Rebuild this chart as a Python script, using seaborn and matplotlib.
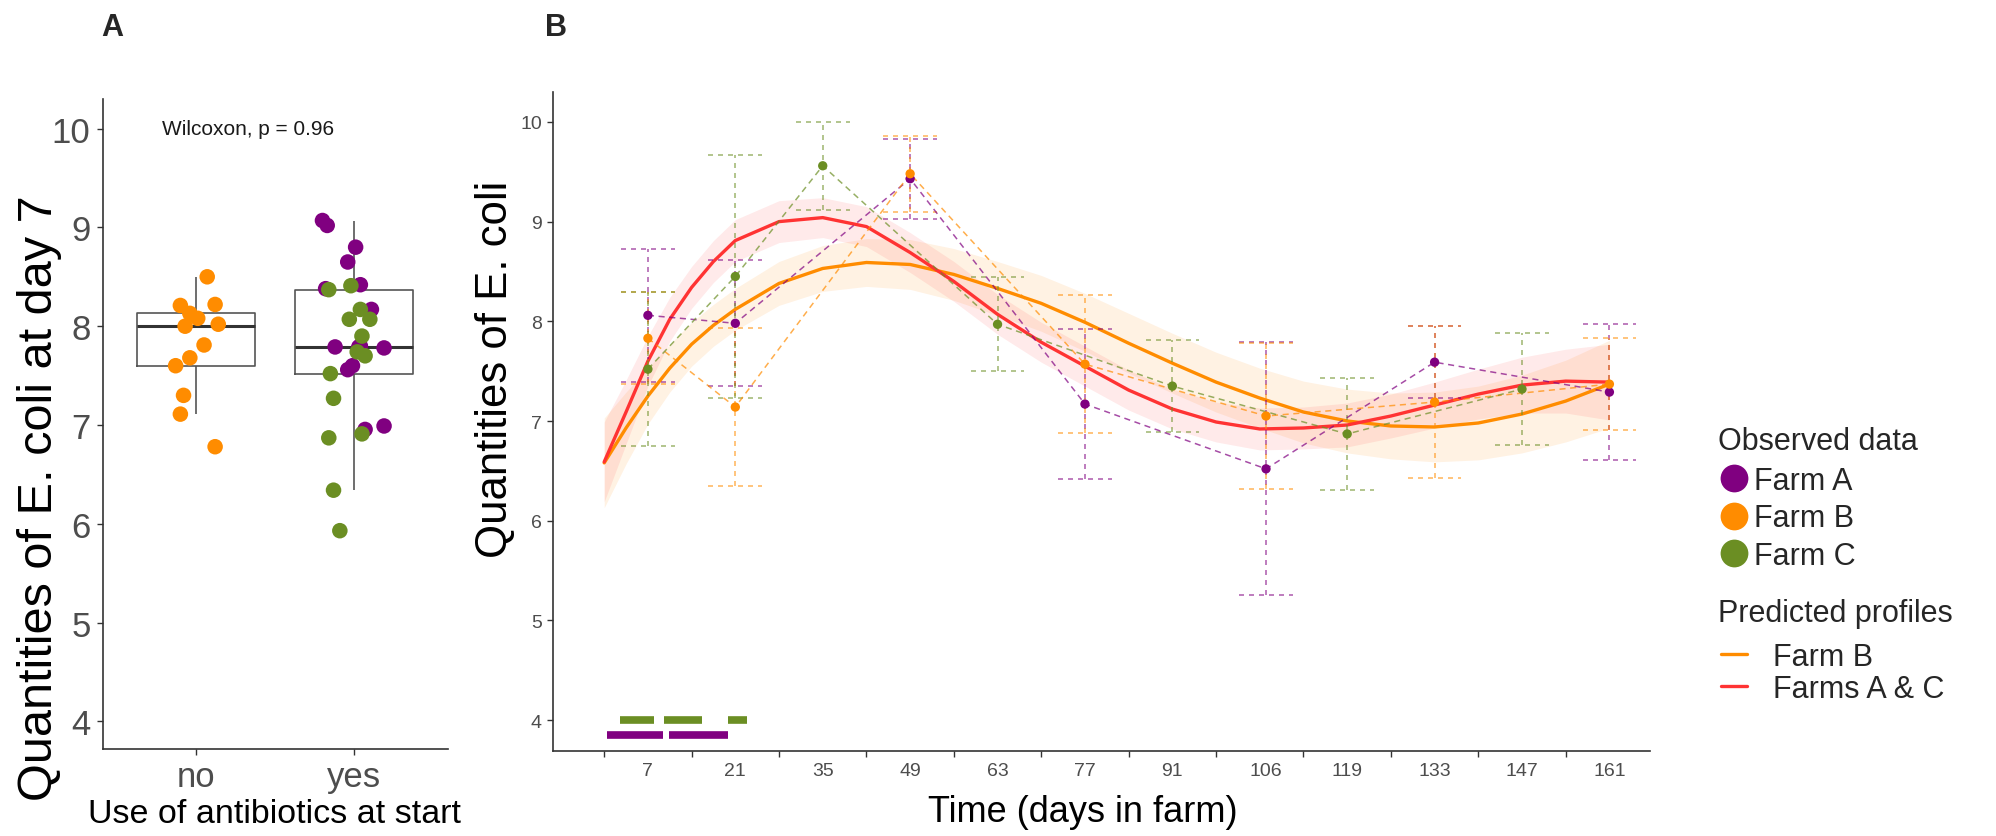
import matplotlib
matplotlib.use("Agg")
import matplotlib.pyplot as plt
from matplotlib.lines import Line2D
import numpy as np
import pandas as pd
import seaborn as sns

W, H = 1996, 837

# ---- panel A: E. coli at day 7 by antibiotic use ----
GROUPS = ["no", "yes"]
NO_VALUES = [8.50, 8.21, 8.22, 8.13, 8.08, 8.02, 8.00, 7.81, 7.68, 7.60, 7.30, 7.11, 6.78]
NO_JITTER = [0.07, -0.10, 0.12, -0.04, 0.01, 0.14, -0.07, 0.05, -0.04, -0.13, -0.08, -0.10, 0.12]
YES_VALUES = [9.07, 9.02, 8.80, 8.65, 8.42, 8.38, 8.17, 7.79, 7.79, 7.78, 7.80, 7.60, 7.56, 6.955, 6.99,
              8.37, 8.41, 8.17, 8.07, 8.07, 7.90, 7.74, 7.70, 7.52, 7.27, 6.87, 6.91, 6.34, 5.93]
YES_FARMS = ["Farm A"] * 15 + ["Farm C"] * 14
YES_JITTER = [-0.20, -0.17, 0.01, -0.04, 0.04, -0.18, 0.11, -0.12, 0.03, 0.19, 0.04, -0.01, -0.04, 0.07, 0.19,
              -0.16, -0.02, 0.04, -0.03, 0.10, 0.05, 0.02, 0.07, -0.15, -0.13, -0.16, 0.05, -0.13, -0.09]

# ---- panel B: observed means +/- sd ----
FARM_A_DAYS = [7, 21, 49, 77, 106, 133, 161]
FARM_A_MEAN = [8.06, 7.98, 9.43, 7.17, 6.52, 7.59, 7.29]
FARM_A_ERR = [0.67, 0.63, 0.40, 0.75, 1.27, 0.36, 0.68]
FARM_B_DAYS = [7, 21, 49, 77, 106, 133, 161]
FARM_B_MEAN = [7.83, 7.14, 9.48, 7.57, 7.05, 7.19, 7.37]
FARM_B_ERR = [0.46, 0.79, 0.38, 0.69, 0.73, 0.76, 0.46]
FARM_C_DAYS = [7, 21, 35, 63, 91, 119, 147]
FARM_C_MEAN = [7.52, 8.45, 9.56, 7.97, 7.35, 6.87, 7.32]
FARM_C_ERR = [0.77, 1.22, 0.44, 0.47, 0.46, 0.56, 0.56]

# predicted profiles with confidence band half widths
CURVE_DAYS = [0, 3.5, 7, 10.5, 14, 17.5, 21, 28, 35, 42, 49, 56, 63, 70, 77, 84, 91, 98, 105,
              112, 119, 126, 133, 140, 147, 154, 161]
FIT_AC = [6.59, 7.09, 7.60, 8.02, 8.34, 8.60, 8.81, 9.00, 9.04, 8.95, 8.69, 8.40, 8.07, 7.79, 7.55,
          7.31, 7.12, 6.99, 6.92, 6.93, 6.96, 7.05, 7.16, 7.27, 7.36, 7.40, 7.39]
BAND_AC = [0.40, 0.32, 0.25, 0.22, 0.21, 0.21, 0.21, 0.21, 0.20, 0.20, 0.20, 0.20, 0.20, 0.20, 0.20,
           0.20, 0.20, 0.20, 0.21, 0.21, 0.22, 0.22, 0.23, 0.25, 0.28, 0.32, 0.38]
FIT_B = [6.58, 6.93, 7.25, 7.53, 7.77, 7.96, 8.12, 8.38, 8.53, 8.59, 8.57, 8.47, 8.33, 8.18, 7.99,
         7.78, 7.58, 7.39, 7.23, 7.09, 7.00, 6.95, 6.94, 6.98, 7.07, 7.20, 7.37]
BAND_B = [0.45, 0.36, 0.28, 0.24, 0.22, 0.21, 0.21, 0.22, 0.23, 0.24, 0.25, 0.26, 0.27, 0.28, 0.29,
          0.30, 0.30, 0.30, 0.30, 0.31, 0.32, 0.33, 0.35, 0.37, 0.39, 0.41, 0.44]

TIME_TICKS = [7, 21, 35, 49, 63, 77, 91, 106, 119, 133, 147, 161]
TIME_LABELS = ["7", "21", "35", "49", "63", "77", "91", "106", "119", "133", "147", "161"]

# antibiotic treatment periods (start, end) in days
ABX_FARM_C = [(2.5, 8.0), (9.6, 15.7), (19.8, 22.8)]
ABX_FARM_A = [(0.5, 9.4), (10.4, 19.8)]

FARM_COLORS = {"Farm A": "#800080", "Farm B": "#FF8C00", "Farm C": "#6B8E23"}
RED = "#FF3333"
TICK_GREY = "#4D4D4D"
AXIS_GREY = "#333333"

sns.set_theme(style="white")
plt.rcParams["font.family"] = ["Liberation Sans", "DejaVu Sans"]

fig = plt.figure(figsize=(W / 100, H / 100), dpi=100)

# ------------------------------------------------------------------ panel A
axA = fig.add_axes([103 / W, 1 - 750 / H, 345 / W, 650 / H])
df_a = pd.DataFrame({
    "group": ["no"] * len(NO_VALUES) + ["yes"] * len(YES_VALUES),
    "value": NO_VALUES + YES_VALUES,
    "farm": ["Farm B"] * len(NO_VALUES) + YES_FARMS,
    "jitter": NO_JITTER + YES_JITTER,
})
df_a["xpos"] = df_a["group"].map({g: i for i, g in enumerate(GROUPS)}) + df_a["jitter"]

sns.boxplot(data=df_a, x="group", y="value", order=GROUPS, ax=axA, fill=False, color="#555555",
            width=0.75, linewidth=1.2, showfliers=False, showcaps=False,
            medianprops=dict(color="#333333", linewidth=2.2))
sns.scatterplot(data=df_a, x="xpos", y="value", hue="farm", palette=FARM_COLORS, s=125,
                edgecolor="none", legend=False, ax=axA, zorder=5)
axA.set_xlim(-0.59, 1.595)
axA.set_ylim(3.72, 10.30)
axA.set_xticks([0, 1])
axA.set_xticklabels(GROUPS)
axA.set_yticks([4, 5, 6, 7, 8, 9, 10])
axA.tick_params(axis="both", labelsize=25, labelcolor=TICK_GREY, color=AXIS_GREY,
                length=4, width=1, left=True, bottom=True)
axA.tick_params(axis="x", pad=4)
axA.tick_params(axis="y", pad=5)
axA.set_xlabel("Use of antibiotics at start", fontsize=24.5, color="black")
axA.set_ylabel("Quantities of E. coli at day 7", fontsize=35, color="black")
axA.xaxis.set_label_coords(0.496, -0.075)
axA.yaxis.set_label_coords(-0.12, 0.387)
for side in ["top", "right"]:
    axA.spines[side].set_visible(False)
for side in ["left", "bottom"]:
    axA.spines[side].set_color(AXIS_GREY)
    axA.spines[side].set_linewidth(1.2)
axA.text(0.33, 10.0, "Wilcoxon, p = 0.96", fontsize=15, ha="center", va="center", color="#1A1A1A")

# ------------------------------------------------------------------ panel B
axB = fig.add_axes([553 / W, 1 - 752 / H, 1097 / W, 659 / H])
days = np.array(CURVE_DAYS)
axB.fill_between(days, np.array(FIT_B) - np.array(BAND_B), np.array(FIT_B) + np.array(BAND_B),
                 color="#FF8C00", alpha=0.11, linewidth=0)
axB.fill_between(days, np.array(FIT_AC) - np.array(BAND_AC), np.array(FIT_AC) + np.array(BAND_AC),
                 color="#FF3333", alpha=0.10, linewidth=0)

df_fit = pd.DataFrame({
    "day": CURVE_DAYS * 2,
    "fit": FIT_B + FIT_AC,
    "profile": ["Farm B"] * len(CURVE_DAYS) + ["Farms A & C"] * len(CURVE_DAYS),
})
sns.lineplot(data=df_fit, x="day", y="fit", hue="profile",
             palette={"Farm B": "#FF8C00", "Farms A & C": RED}, linewidth=2.4,
             legend=False, errorbar=None, ax=axB)

obs = pd.concat([
    pd.DataFrame({"day": FARM_A_DAYS, "mean": FARM_A_MEAN, "err": FARM_A_ERR, "farm": "Farm A"}),
    pd.DataFrame({"day": FARM_B_DAYS, "mean": FARM_B_MEAN, "err": FARM_B_ERR, "farm": "Farm B"}),
    pd.DataFrame({"day": FARM_C_DAYS, "mean": FARM_C_MEAN, "err": FARM_C_ERR, "farm": "Farm C"}),
], ignore_index=True)

cap = 4.3
for farm, sub in obs.groupby("farm"):
    col = FARM_COLORS[farm]
    axB.vlines(sub["day"], sub["mean"] - sub["err"], sub["mean"] + sub["err"], colors=col,
               linestyles=(0, (3, 3)), linewidth=1.2, alpha=0.6)
    for yy in (sub["mean"] - sub["err"], sub["mean"] + sub["err"]):
        axB.hlines(yy, sub["day"] - cap, sub["day"] + cap, colors=col,
                   linestyles=(0, (3, 3)), linewidth=1.2, alpha=0.6)

sns.lineplot(data=obs, x="day", y="mean", hue="farm", palette=FARM_COLORS, linewidth=1.1,
             dashes=False, legend=False, errorbar=None, ax=axB, alpha=0.7)
for line in axB.lines[-3:]:
    line.set_linestyle((0, (4, 3)))
sns.scatterplot(data=obs, x="day", y="mean", hue="farm", palette=FARM_COLORS, s=45,
                edgecolor="none", legend=False, ax=axB, zorder=6)

for s, e in ABX_FARM_C:
    axB.plot([s, e], [4.0, 4.0], color="#6B8E23", linewidth=5.5, solid_capstyle="butt")
for s, e in ABX_FARM_A:
    axB.plot([s, e], [3.85, 3.85], color="#800080", linewidth=5.5, solid_capstyle="butt")

axB.set_xlim(-8.2, 167.5)
axB.set_ylim(3.69, 10.30)
axB.set_xticks(TIME_TICKS)
axB.set_xticklabels(TIME_LABELS)
axB.set_xticks(np.arange(0, 155, 14), minor=True)
axB.set_yticks([4, 5, 6, 7, 8, 9, 10])
axB.tick_params(axis="x", which="major", length=0, pad=8, labelsize=14, labelcolor=TICK_GREY)
axB.tick_params(axis="x", which="minor", length=4, width=1, color=AXIS_GREY, bottom=True)
axB.tick_params(axis="y", length=4, width=1, color=AXIS_GREY, left=True, pad=4,
                labelsize=14, labelcolor=TICK_GREY)
axB.set_xlabel("Time (days in farm)", fontsize=26, color="black")
axB.set_ylabel("Quantities of E. coli", fontsize=31.5, color="black")
axB.xaxis.set_label_coords(0.483, -0.066)
axB.yaxis.set_label_coords(-0.034, 0.58)
for side in ["top", "right"]:
    axB.spines[side].set_visible(False)
for side in ["left", "bottom"]:
    axB.spines[side].set_color(AXIS_GREY)
    axB.spines[side].set_linewidth(1.2)

# ------------------------------------------------------------------ legends
fig.text(1718 / W, 1 - 442 / H, "Observed data", fontsize=22, ha="left", va="center")
obs_handles = [Line2D([], [], marker="o", linestyle="", color=FARM_COLORS[f], markersize=20,
                      markeredgewidth=0) for f in ["Farm A", "Farm B", "Farm C"]]
fig.legend(obs_handles, ["Farm A", "Farm B", "Farm C"],
           loc="upper left", bbox_to_anchor=(1719 / W, 1 - 467 / H), frameon=False,
           fontsize=22, handlelength=1.0, handletextpad=0.14, labelspacing=0.24,
           borderpad=0, borderaxespad=0)
fig.text(1718 / W, 1 - 614 / H, "Predicted profiles", fontsize=22, ha="left", va="center")
fit_handles = [Line2D([], [], color="#FF8C00", linewidth=2.4), Line2D([], [], color=RED, linewidth=2.4)]
fig.legend(fit_handles, ["Farm B", "Farms A & C"],
           loc="upper left", bbox_to_anchor=(1721 / W, 1 - 643 / H), frameon=False,
           fontsize=22, handlelength=0.85, handletextpad=0.85, labelspacing=0.06,
           borderpad=0, borderaxespad=0)

fig.text(112 / W, 1 - 28 / H, "A", fontsize=22, fontweight="bold", ha="center", va="center")
fig.text(556 / W, 1 - 28 / H, "B", fontsize=22, fontweight="bold", ha="center", va="center")

fig.savefig("out.png", dpi=100)
